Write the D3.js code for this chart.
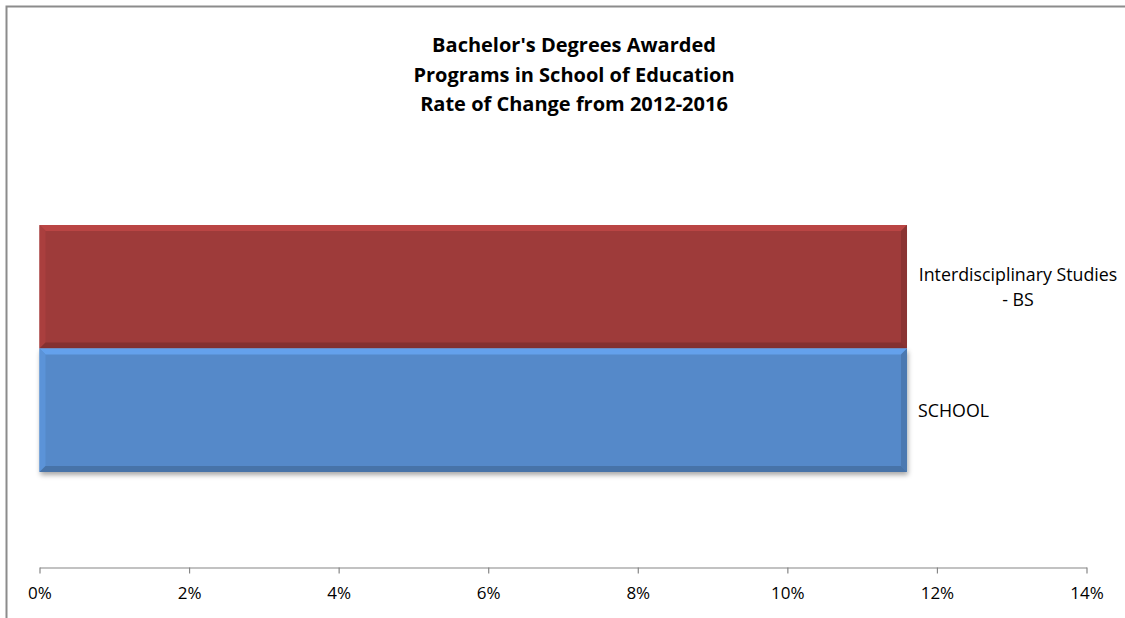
<!DOCTYPE html>
<html>
<head>
<meta charset="utf-8">
<script src="https://cdn.jsdelivr.net/npm/d3@7"></script>
<style>
  html, body { margin: 0; padding: 0; background: #fff; }
  svg { display: block; }
  text { font-family: "Open Sans", Lato, "Liberation Sans", sans-serif; fill: #000; }
</style>
</head>
<body>
<svg id="chart" width="1125" height="618"></svg>
<script>
// ---- data ----
const titleLines = ["Bachelor's Degrees Awarded", "Programs in School of Education", "Rate of Change from 2012-2016"];
const categories = ["Interdisciplinary Studies - BS", "SCHOOL"];
const categoryLabelLines = [["Interdisciplinary Studies", "- BS"], ["SCHOOL"]];
const values = [0.116, 0.116];
const barColors = ["#9E3B3A", "#5589C9"];
const tickValues = [0, 0.02, 0.04, 0.06, 0.08, 0.10, 0.12, 0.14];
const tickLabels = ["0%", "2%", "4%", "6%", "8%", "10%", "12%", "14%"];

const svg = d3.select("#chart");
const W = 1125, H = 618;

// chart frame
svg.append("rect").attr("x", 6.5).attr("y", 6.5).attr("width", W + 10).attr("height", H + 10)
  .attr("fill", "#fff").attr("stroke", "#8c8c8c").attr("stroke-width", 2);

// scales
const x = d3.scaleLinear().domain([0, 0.14]).range([39.5, 1086.5]);
const y = d3.scaleBand().domain(categories).range([130, 567]).paddingInner(0).paddingOuter(0.77);

const defs = svg.append("defs");
const filt = defs.append("filter").attr("id", "shadow").attr("x", "-5%").attr("y", "-10%").attr("width", "110%").attr("height", "130%");
filt.append("feDropShadow").attr("dx", 1).attr("dy", 3).attr("stdDeviation", 2.5).attr("flood-color", "#000").attr("flood-opacity", 0.35);

// bars
const bars = svg.append("g");
categories.forEach((c, i) => {
  const x0 = x(0), x1 = x(values[i]);
  const y0 = y(c), bh = y.bandwidth();
  const col = d3.color(barColors[i]);
  const g = bars.append("g");
  g.append("rect").attr("x", x0).attr("y", y0).attr("width", x1 - x0).attr("height", bh)
    .attr("fill", col.formatHex()).attr("filter", i === categories.length - 1 ? "url(#shadow)" : null);
  const b = 6;
  g.append("path").attr("d", `M${x0},${y0}L${x1},${y0}L${x1 - b},${y0 + b}L${x0 + b},${y0 + b}Z`)
    .attr("fill", col.brighter(0.45).formatHex());
  g.append("path").attr("d", `M${x0},${y0}L${x0 + b},${y0 + b}L${x0 + b},${y0 + bh - b}L${x0},${y0 + bh}Z`)
    .attr("fill", col.brighter(0.2).formatHex());
  g.append("path").attr("d", `M${x1},${y0}L${x1},${y0 + bh}L${x1 - b},${y0 + bh - b}L${x1 - b},${y0 + b}Z`)
    .attr("fill", col.darker(0.35).formatHex());
  g.append("path").attr("d", `M${x0},${y0 + bh}L${x1},${y0 + bh}L${x1 - b},${y0 + bh - b}L${x0 + b},${y0 + bh - b}Z`)
    .attr("fill", col.darker(0.5).formatHex());
});

// x axis
const axis = d3.axisBottom(x).tickValues(tickValues).tickSize(6).tickSizeOuter(0)
  .tickFormat((d, i) => tickLabels[i]);
const ax = svg.append("g").attr("transform", "translate(0,567.5)").call(axis);
ax.select(".domain").attr("stroke", "#868686").attr("stroke-width", 1.2);
ax.selectAll(".tick line").attr("stroke", "#868686").attr("stroke-width", 1.2);
ax.selectAll(".tick text").attr("font-size", 17).attr("dy", 0).attr("y", 31)
  .style("font-family", "'Open Sans', Lato, sans-serif").attr("fill", "#000");

// category labels (right side)
const lab = svg.append("g");
categories.forEach((c, i) => {
  const lines = categoryLabelLines[i];
  const cy = y(c) + y.bandwidth() / 2;
  const lh = 25;
  const t = lab.append("text").attr("font-size", 17.8);
  const multi = lines.length > 1;
  lines.forEach((ln, j) => {
    t.append("tspan")
      .attr("x", multi ? 1018 : 918)
      .attr("text-anchor", multi ? "middle" : "start")
      .attr("y", cy + (j - (lines.length - 1) / 2) * lh + 6.5)
      .text(ln);
  });
});

// title
const tt = svg.append("text").attr("font-size", 20).attr("font-weight", "bold").attr("text-anchor", "middle");
titleLines.forEach((ln, j) => {
  tt.append("tspan").attr("x", 574).attr("y", 52 + j * 29.5).text(ln);
});
</script>
</body>
</html>
